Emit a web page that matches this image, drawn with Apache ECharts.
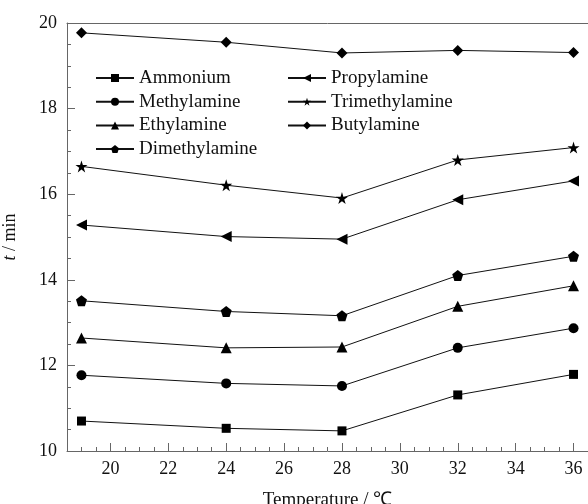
<!DOCTYPE html>
<html>
<head>
<meta charset="utf-8">
<script src="https://cdn.jsdelivr.net/npm/echarts@6/dist/echarts.min.js"></script>
<style>html,body{margin:0;padding:0;background:#fff}#c{width:588px;height:504px}</style>
</head>
<body>
<div id="c"></div>
<script>
const temps = [19, 24, 28, 32, 36];
const ammonium = [10.70, 10.53, 10.47, 11.31, 11.79];
const methylamine = [11.77, 11.58, 11.52, 12.41, 12.87];
const ethylamine = [12.64, 12.41, 12.43, 13.38, 13.86];
const dimethylamine = [13.51, 13.26, 13.16, 14.10, 14.55];
const propylamine = [15.28, 15.01, 14.95, 15.87, 16.31];
const trimethylamine = [16.65, 16.21, 15.91, 16.80, 17.09];
const butylamine = [19.77, 19.55, 19.30, 19.36, 19.31];
const xTickLabels = [20, 22, 24, 26, 28, 30, 32, 34, 36];
const xMinorTicks = [19, 19.5, 20.5, 21, 21.5, 22.5, 23, 23.5, 24.5, 25, 25.5, 26.5, 27, 27.5, 28.5, 29, 29.5, 30.5, 31, 31.5, 32.5, 33, 33.5, 34.5, 35, 35.5, 36.5];

const FONT = 'Liberation Serif';
const PENT = 'path://M0,-1 L0.951,-0.309 L0.588,0.809 L-0.588,0.809 L-0.951,-0.309 Z';
const STAR = 'path://M0,-1 L0.2245,-0.309 L0.951,-0.309 L0.363,0.118 L0.588,0.809 L0,0.382 L-0.588,0.809 L-0.363,0.118 L-0.951,-0.309 L-0.2245,-0.309 Z';
const LTRI = 'path://M0,5 L10,0 L10,10 Z';

const defs = [
  ['Ammonium', ammonium, 'rect', 9],
  ['Methylamine', methylamine, 'circle', 10],
  ['Ethylamine', ethylamine, 'triangle', 11],
  ['Dimethylamine', dimethylamine, PENT, 11],
  ['Propylamine', propylamine, LTRI, 11],
  ['Trimethylamine', trimethylamine, STAR, 12],
  ['Butylamine', butylamine, 'diamond', 11]
];

const series = defs.map(([name, vals, sym, size]) => ({
  name: name,
  type: 'line',
  xAxisIndex: 0,
  yAxisIndex: 0,
  data: temps.map((t, i) => [t, vals[i]]),
  symbol: sym,
  symbolSize: size,
  showAllSymbol: true,
  lineStyle: { color: '#111', width: 1 },
  itemStyle: { color: '#000', borderWidth: 0 },
  emphasis: { disabled: true },
  animation: false
}));

const axisGray = '#666';
const legendText = { fontFamily: FONT, fontSize: 19, color: '#111', lineHeight: 17 };
const chart = echarts.init(document.getElementById('c'), null, { renderer: 'canvas' });
chart.setOption({
  animation: false,
  backgroundColor: '#fff',
  textStyle: { fontFamily: FONT },
  grid: { left: 67, right: 0, top: 23, bottom: 53, outerBoundsMode: 'none', containLabel: false },
  legend: [
    {
      data: ['Ammonium', 'Methylamine', 'Ethylamine', 'Dimethylamine'],
      orient: 'vertical', left: 95, top: 68.5, padding: 0,
      itemWidth: 38, itemHeight: 10, itemGap: 4.7,
      textStyle: legendText,
      selectedMode: false
    },
    {
      data: ['Propylamine', 'Trimethylamine', 'Butylamine'],
      orient: 'vertical', left: 287, top: 68.5, padding: 0,
      itemWidth: 38, itemHeight: 10, itemGap: 4.7,
      textStyle: legendText,
      selectedMode: false
    }
  ],
  xAxis: [
    {
      type: 'value', min: 18.5, max: 36.5, position: 'bottom',
      name: 'Temperature / ℃', nameLocation: 'middle', nameGap: 40,
      nameTextStyle: { fontFamily: FONT, fontSize: 19, color: '#111' },
      axisLine: { show: true, lineStyle: { color: axisGray, width: 1 } },
      axisTick: { show: true, inside: true, length: 8, customValues: xTickLabels, lineStyle: { color: axisGray } },
      axisLabel: { customValues: xTickLabels, fontFamily: FONT, fontSize: 18, color: '#111', margin: 9 },
      splitLine: { show: false }
    },
    {
      type: 'value', min: 18.5, max: 36.5, position: 'bottom',
      axisLine: { show: false },
      axisTick: { show: true, inside: true, length: 4, customValues: xMinorTicks, lineStyle: { color: axisGray } },
      axisLabel: { show: false },
      splitLine: { show: false }
    },
    {
      type: 'value', min: 18.5, max: 36.5, position: 'top',
      axisLine: { show: true, lineStyle: { color: axisGray, width: 1 } },
      axisTick: { show: false },
      axisLabel: { show: false },
      splitLine: { show: false }
    }
  ],
  yAxis: [
    {
      type: 'value', min: 10, max: 20, interval: 2, position: 'left',
      name: '{i|t} / min', nameLocation: 'middle', nameGap: 48, nameRotate: 90,
      nameTextStyle: { fontFamily: FONT, fontSize: 18, color: '#111',
        rich: { i: { fontFamily: FONT, fontSize: 18, fontStyle: 'italic', color: '#111' } } },
      axisLine: { show: true, lineStyle: { color: axisGray, width: 1 } },
      axisTick: { show: true, inside: true, length: 8, lineStyle: { color: axisGray } },
      minorTick: { show: true, splitNumber: 4, length: 4, lineStyle: { color: axisGray } },
      axisLabel: { fontFamily: FONT, fontSize: 18, color: '#111', margin: 10 },
      splitLine: { show: false },
      minorSplitLine: { show: false }
    }
  ],
  series: series
});
</script>
</body>
</html>
